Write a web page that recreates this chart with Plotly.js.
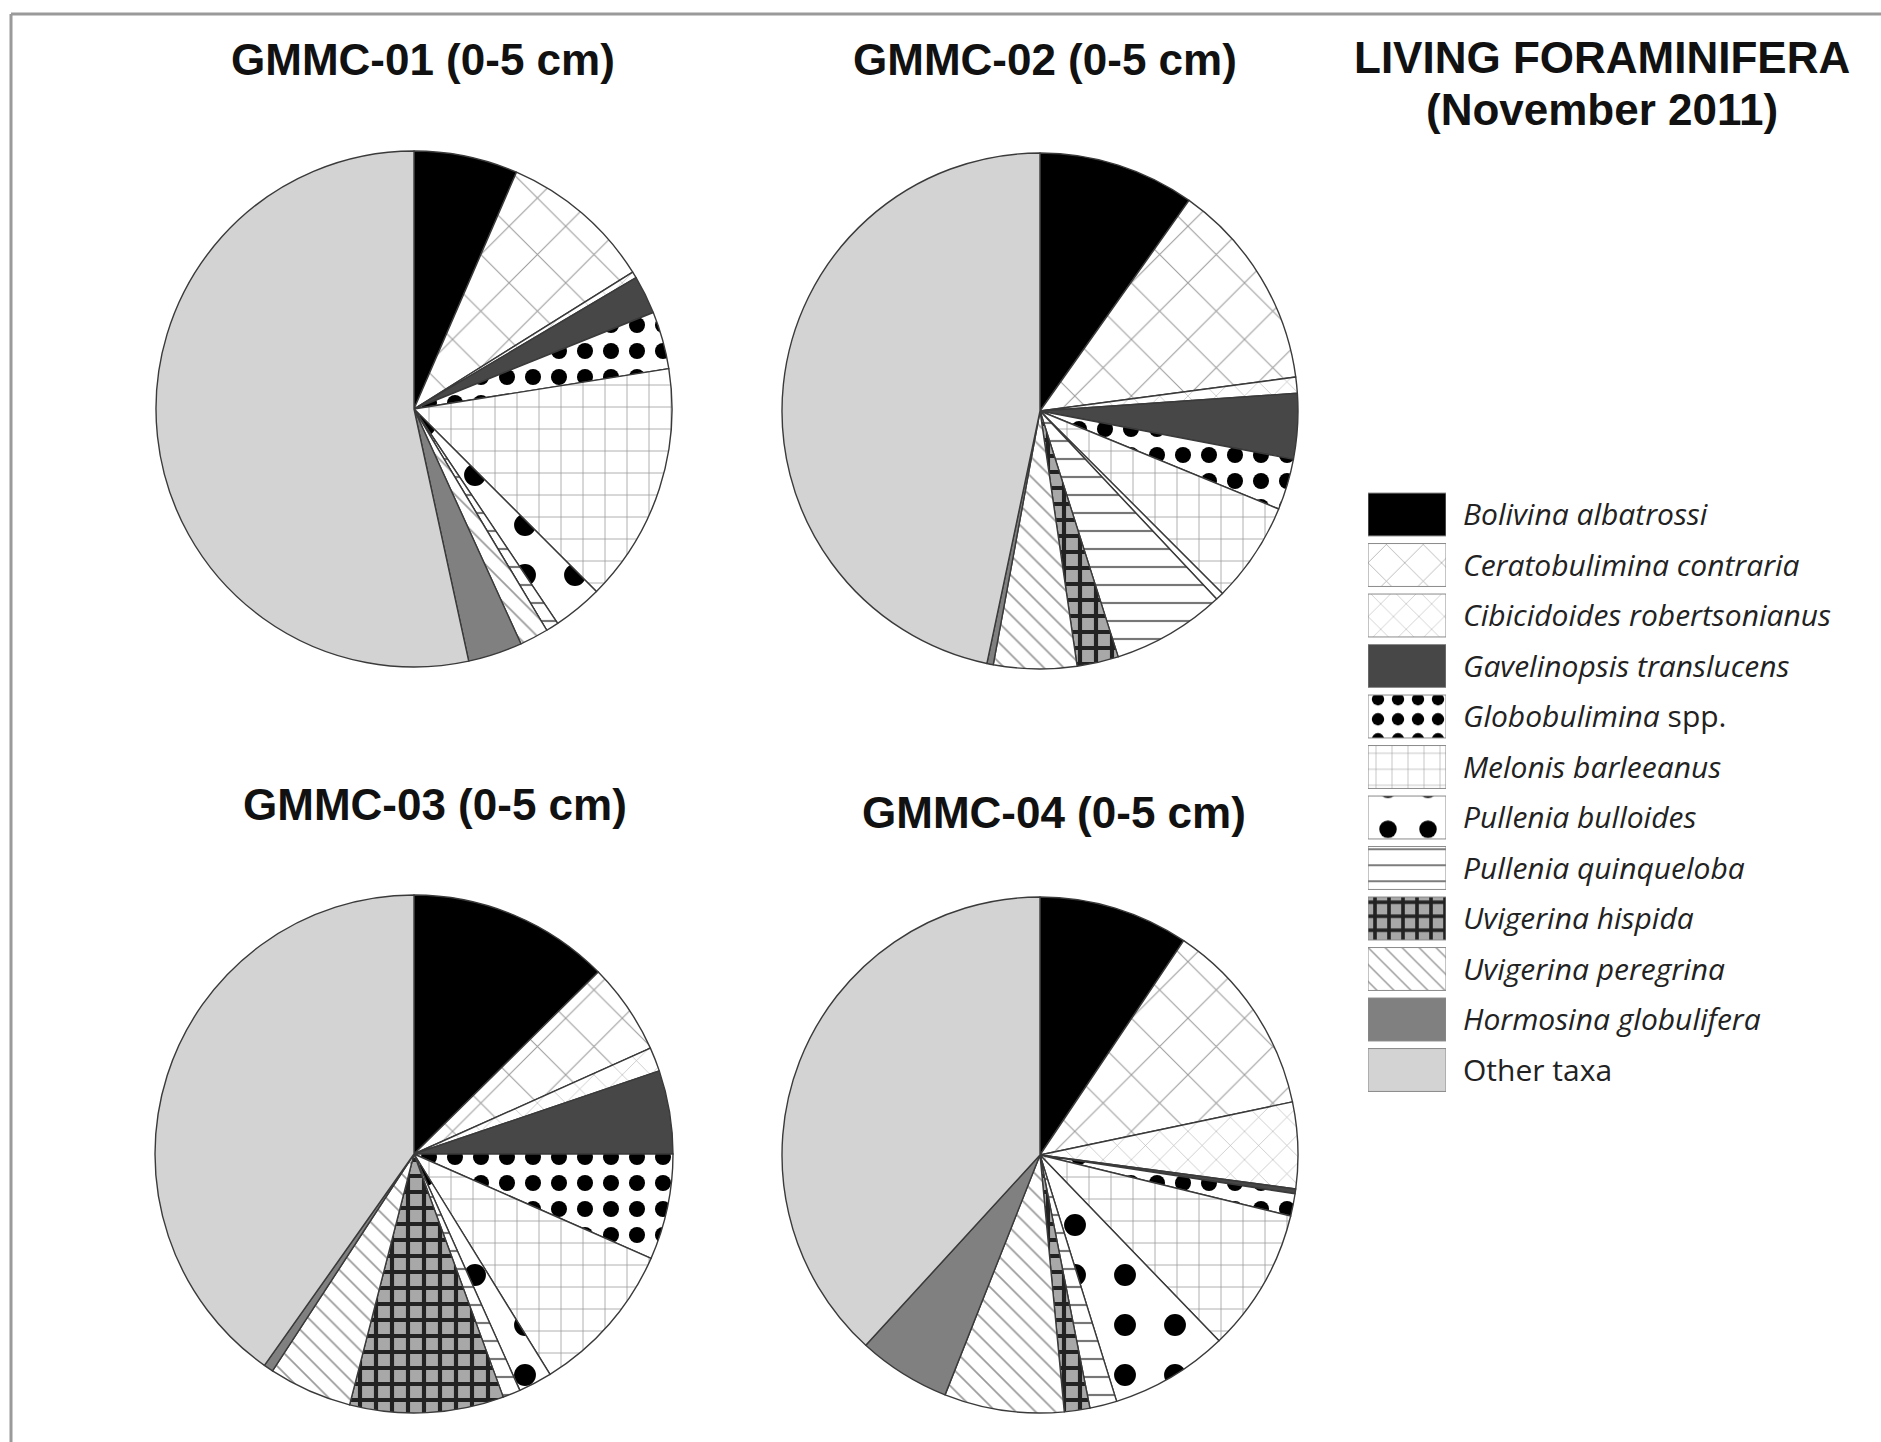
<!DOCTYPE html>
<html>
<head>
<meta charset="utf-8">
<script src="https://cdn.plot.ly/plotly-3.0.1.min.js"></script>
<style>html,body{margin:0;padding:0;background:#fff;}#chart{width:1881px;height:1442px;}</style>
</head>
<body>
<div id="chart"></div>
<script>
// ---- data (percent of living assemblage) ----
const species = [
  "Bolivina albatrossi", "Ceratobulimina contraria", "Cibicidoides robertsonianus",
  "Gavelinopsis translucens", "Globobulimina spp.", "Melonis barleeanus",
  "Pullenia bulloides", "Pullenia quinqueloba", "Uvigerina hispida",
  "Uvigerina peregrina", "Hormosina globulifera", "Other taxa"
];
const legendText = [
  "<i>Bolivina albatrossi</i>", "<i>Ceratobulimina contraria</i>", "<i>Cibicidoides robertsonianus</i>",
  "<i>Gavelinopsis translucens</i>", "<i>Globobulimina</i> spp.", "<i>Melonis barleeanus</i>",
  "<i>Pullenia bulloides</i>", "<i>Pullenia quinqueloba</i>", "<i>Uvigerina hispida</i>",
  "<i>Uvigerina peregrina</i>", "<i>Hormosina globulifera</i>", "Other taxa"
];
const gmmc01 = [6.5, 9.6, 0.4, 2.4, 3.6, 15.0, 3.1, 0.8, 0.0, 1.8, 3.4, 53.4];
const gmmc02 = [9.8, 13.1, 1.0, 4.1, 3.2, 6.3, 0.5, 7.1, 2.6, 5.2, 0.4, 46.7];
const gmmc03 = [12.6, 5.7, 1.5, 5.2, 6.6, 9.6, 2.1, 1.1, 9.6, 5.2, 0.6, 40.2];
const gmmc04 = [9.4, 12.3, 5.4, 0.3, 1.4, 9.0, 7.4, 1.7, 1.6, 7.5, 5.8, 38.2];
const sampleTitles = ["GMMC-01 (0-5 cm)", "GMMC-02 (0-5 cm)", "GMMC-03 (0-5 cm)", "GMMC-04 (0-5 cm)"];
const legendSwatch = [1, 1, 1, 1, 1, 1, 1, 1, 1, 1, 1, 1];

// ---- styles ----
const baseColor = ["#000000", "#ffffff", "#ffffff", "#474747", "#ffffff", "#ffffff",
                   "#ffffff", "#ffffff", "#a8a8a8", "#ffffff", "#808080", "#d3d3d3"];
const patShape = ["", "x", "x", "", ".", "+", ".", "-", "+", "\\", "", ""];
const patFg = ["#000", "#9a9a9a", "#b0b0b0", "#000", "#000", "#9a9a9a", "#000", "#777", "#222", "#9a9a9a", "#000", "#000"];
const patSize = [8, 40, 20, 8, 26, 22, 50, 18, 16, 14, 8, 8];
const patSolid = [0.3, 0.05, 0.06, 0.3, 0.3, 0.07, 0.15, 0.12, 0.45, 0.12, 0.3, 0.3];
const legendPatSize = [8, 26, 18, 8, 20, 16, 40, 16, 14, 12, 8, 8];

const pattern = {
  fillmode: "replace", shape: patShape, fgcolor: patFg, bgcolor: baseColor,
  size: patSize, solidity: patSolid
};

const W = 1881, H = 1442;
function dom(cx, cy, r) {
  return {x: [(cx - r) / W, (cx + r) / W], y: [(H - cy - r) / H, (H - cy + r) / H]};
}
const pieDomains = [dom(414, 409, 258), dom(1040, 411, 258), dom(414, 1154, 259), dom(1040, 1155, 258)];
const pieValues = [gmmc01, gmmc02, gmmc03, gmmc04];

const traces = pieValues.map((vals, i) => ({
  type: "pie",
  labels: species,
  values: vals,
  sort: false,
  direction: "clockwise",
  rotation: 0,
  textinfo: "none",
  hoverinfo: "label+percent",
  domain: pieDomains[i],
  showlegend: false,
  marker: {colors: baseColor, pattern: pattern, line: {color: "#3a3a3a", width: 1.4}}
}));

// legend swatches: one horizontal bar per species on a category axis
species.forEach((s, i) => {
  const m = {color: baseColor[i], line: {color: "#8a8a8a", width: 1}};
  if (patShape[i]) {
    m.pattern = {fillmode: "replace", shape: patShape[i], fgcolor: patFg[i], bgcolor: baseColor[i],
                 size: legendPatSize[i], solidity: patSolid[i]};
  }
  traces.push({
    type: "bar", orientation: "h",
    y: [s], x: [legendSwatch[i]],
    width: 0.85, xaxis: "x", yaxis: "y",
    hoverinfo: "y", showlegend: false, marker: m
  });
});

const titleFont = {family: "Liberation Sans, Arial, sans-serif", size: 44, color: "#111", weight: "bold"};
const titlePos = [[423, 60], [1045, 60], [435, 804], [1054, 812]];
const annotations = sampleTitles.map((t, i) => ({
  text: "<b>" + t + "</b>", xref: "paper", yref: "paper",
  x: titlePos[i][0] / W, y: (H - titlePos[i][1]) / H,
  xanchor: "center", yanchor: "middle", showarrow: false, font: titleFont
}));
annotations.push({text: "<b>LIVING FORAMINIFERA</b>", xref: "paper", yref: "paper",
  x: 1602 / W, y: (H - 58) / H, xanchor: "center", yanchor: "middle", showarrow: false, font: titleFont});
annotations.push({text: "<b>(November 2011)</b>", xref: "paper", yref: "paper",
  x: 1602 / W, y: (H - 110) / H, xanchor: "center", yanchor: "middle", showarrow: false, font: titleFont});

const layout = {
  width: W, height: H,
  margin: {l: 0, r: 0, t: 0, b: 0, pad: 0},
  paper_bgcolor: "#ffffff", plot_bgcolor: "rgba(0,0,0,0)",
  showlegend: false,
  barmode: "overlay",
  xaxis: {domain: [1368 / W, 1446 / W], range: [0, 1], visible: false, fixedrange: true},
  yaxis: {
    domain: [(H - 1095.25) / H, (H - 489.25) / H],
    type: "category", categoryorder: "array", categoryarray: species,
    range: [11.5, -0.5], side: "right",
    showgrid: false, zeroline: false, showline: false, ticks: "",
    tickvals: species, ticktext: legendText, ticklabelstandoff: 16,
    tickfont: {family: "Open Sans, sans-serif", size: 30, color: "#222"}, fixedrange: true
  },
  annotations: annotations,
  shapes: [
    {type: "line", xref: "paper", yref: "paper", x0: 11 / W, x1: 11 / W, y0: 0, y1: 1 - 14 / H,
     line: {color: "#9a9a9a", width: 3}},
    {type: "line", xref: "paper", yref: "paper", x0: 11 / W, x1: 1, y0: 1 - 14 / H, y1: 1 - 14 / H,
     line: {color: "#9a9a9a", width: 3}}
  ]
};

Plotly.newPlot("chart", traces, layout, {staticPlot: true, displayModeBar: false});
</script>
</body>
</html>
